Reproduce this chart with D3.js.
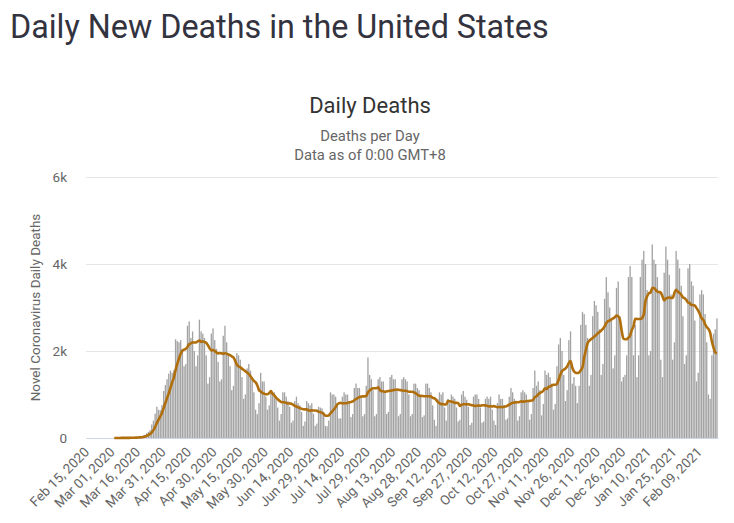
<!DOCTYPE html>
<html>
<head>
<meta charset="utf-8">
<script src="https://cdn.jsdelivr.net/npm/d3@7"></script>
<style>
  body { margin: 0; background: #fff; }
  svg { display: block; font-family: Roboto, "Noto Sans", sans-serif; }
</style>
</head>
<body>
<svg id="chart" width="734" height="523"></svg>
<script>
// daily data starts Sat Feb 15, 2020 (one row per week, Sat..Fri)
const startDate = "2020-02-15";
const dailyDeaths = [
  0,0,0,0,0,0,0,
  0,0,0,0,0,0,0,
  0,0,5,1,4,1,2,
  3,2,4,6,9,8,12,
  10,12,18,26,42,55,75,
  110,140,180,310,400,560,720,
  650,640,760,1080,1220,1350,1480,
  1550,1500,1560,2270,2230,2200,2250,
  2050,1650,1700,2580,2680,2300,2450,
  2000,1650,1900,2720,2450,2400,2300,
  1900,1250,1400,2400,2520,2250,2050,
  1750,1300,1350,2350,2580,2200,1900,
  1650,1100,1200,1800,1950,1900,1800,
  1400,900,1000,1600,1700,1550,1400,
  1050,650,550,800,1500,1300,1300,
  950,650,750,1100,1050,1050,950,
  700,400,550,1050,1050,950,850,
  720,350,400,850,950,800,750,
  600,280,380,850,800,750,800,
  560,280,330,720,700,680,600,
  280,270,400,1050,1000,1000,950,
  750,450,450,950,1050,1000,1000,
  850,480,550,1150,1250,1150,1150,
  950,500,550,1200,1850,1450,1350,
  1100,500,550,1350,1400,1300,1300,
  1050,550,600,1400,1450,1350,1350,
  1100,500,550,1350,1400,1350,1300,
  1000,500,550,1250,1250,1150,1100,
  980,480,520,1250,1250,1150,1050,
  750,420,280,900,1050,1000,1050,
  700,400,900,800,1000,950,900,
  700,380,420,1000,1080,950,880,
  720,300,350,950,1000,1000,900,
  700,350,380,900,950,900,950,
  650,400,300,800,1000,900,900,
  750,420,450,950,1150,1050,900,
  850,400,500,1050,1100,1050,1000,
  850,420,550,1150,1550,1200,1300,
  1100,520,780,1550,1450,1500,1400,
  1250,650,780,1650,2150,2300,2000,
  1450,850,1100,2250,2450,1250,1400,
  1200,800,1200,2600,2900,2850,2600,
  2300,1200,1450,2800,3150,3050,2900,
  2500,1450,1700,3200,3700,3350,3000,
  2700,1600,1900,3450,3600,2800,1300,
  1400,1450,1900,3700,3950,3700,1900,
  2600,1400,1900,3700,4100,4300,4000,
  3400,1900,2000,4450,4100,4000,3700,
  3350,1800,1400,3800,4400,4100,3750,
  3300,1800,2200,4300,4100,3900,3500,
  2800,1700,1900,3900,4000,3600,3500,
  2700,1300,1500,3300,3400,3300,2850,
  2200,1000,900,1900,2400,2500,2750
];
const tickLabels = [
  "Feb 15, 2020","Mar 01, 2020","Mar 16, 2020","Mar 31, 2020","Apr 15, 2020",
  "Apr 30, 2020","May 15, 2020","May 30, 2020","Jun 14, 2020","Jun 29, 2020",
  "Jul 14, 2020","Jul 29, 2020","Aug 13, 2020","Aug 28, 2020","Sep 12, 2020",
  "Sep 27, 2020","Oct 12, 2020","Oct 27, 2020","Nov 11, 2020","Nov 26, 2020",
  "Dec 11, 2020","Dec 26, 2020","Jan 10, 2021","Jan 25, 2021","Feb 09, 2021"
];
const yTicks = [0, 2000, 4000, 6000];

const fmtDate = d3.timeFormat("%b %d, %Y");
const t0 = d3.timeParse("%Y-%m-%d")(startDate);
const categories = dailyDeaths.map((_, i) => fmtDate(d3.timeDay.offset(t0, i)));

// 7-day trailing average, drawn from the first day with a non-zero value
const avg = dailyDeaths.map((_, i) => i < 6 ? 0 : d3.mean(dailyDeaths.slice(i - 6, i + 1)));
const firstIdx = avg.findIndex(v => v > 0);
const avgData = avg.map((v, i) => ({ cat: categories[i], v })).slice(firstIdx);

const svg = d3.select("#chart");
const margin = { left: 86, right: 16, top: 177, bottom: 85 };
const W = 734, H = 523;

const x = d3.scaleBand().domain(categories).range([margin.left, W - margin.right]).padding(0.22);
const y = d3.scaleLinear().domain([0, 6000]).range([H - margin.bottom, margin.top]);

// titles
svg.append("text").attr("x", 10).attr("y", 38)
  .attr("font-size", 32.3).attr("fill", "#333340")
  .text("Daily New Deaths in the United States");
svg.append("text").attr("x", 370).attr("y", 113).attr("text-anchor", "middle")
  .attr("font-size", 22).attr("fill", "#333333").text("Daily Deaths");
svg.append("text").attr("x", 370).attr("y", 141).attr("text-anchor", "middle")
  .attr("font-size", 14.8).attr("fill", "#666666").text("Deaths per Day");
svg.append("text").attr("x", 370).attr("y", 160).attr("text-anchor", "middle")
  .attr("font-size", 14.8).attr("fill", "#666666").text("Data as of 0:00 GMT+8");

// grid + y labels
const yAxis = d3.axisLeft(y).tickValues(yTicks).tickFormat(d => d === 0 ? "0" : d3.format("~s")(d))
  .tickSize(-(W - margin.left - margin.right)).tickPadding(19);
const gy = svg.append("g").attr("transform", `translate(${margin.left},0)`).call(yAxis);
gy.select(".domain").remove();
gy.selectAll(".tick line").attr("stroke", "#e6e6e6");
gy.selectAll(".tick text").attr("font-size", 13.5).attr("fill", "#666666").attr("font-family", "Roboto");

svg.append("text")
  .attr("transform", `translate(40,${(margin.top + H - margin.bottom) / 2}) rotate(-90)`)
  .attr("text-anchor", "middle").attr("font-size", 13.5).attr("fill", "#666666")
  .text("Novel Coronavirus Daily Deaths");

// bars
svg.append("g").selectAll("rect").data(dailyDeaths).join("rect")
  .attr("x", (d, i) => x(categories[i]))
  .attr("width", x.bandwidth())
  .attr("y", d => y(d))
  .attr("height", d => y(0) - y(d))
  .attr("fill", "#a3a3a3");

// x axis
const xAxis = d3.axisBottom(x).tickValues(tickLabels).tickSize(0).tickPadding(0);
const gx = svg.append("g").attr("transform", `translate(0,${y(0)})`).call(xAxis);
gx.select(".domain").attr("stroke", "#ccd6eb");
gx.selectAll(".tick text")
  .attr("font-size", 13.5).attr("fill", "#666666").attr("font-family", "Roboto")
  .attr("text-anchor", "end").attr("dy", 0).attr("y", 0)
  .attr("transform", "translate(3,15) rotate(-45)");

// moving average line
const line = d3.line()
  .x(d => x(d.cat) + x.bandwidth() / 2)
  .y(d => y(d.v))
  .curve(d3.curveMonotoneX);
svg.append("path").datum(avgData)
  .attr("fill", "none").attr("stroke", "#b06f0c").attr("stroke-width", 2.6)
  .attr("stroke-linejoin", "round")
  .attr("d", line);
</script>
</body>
</html>
